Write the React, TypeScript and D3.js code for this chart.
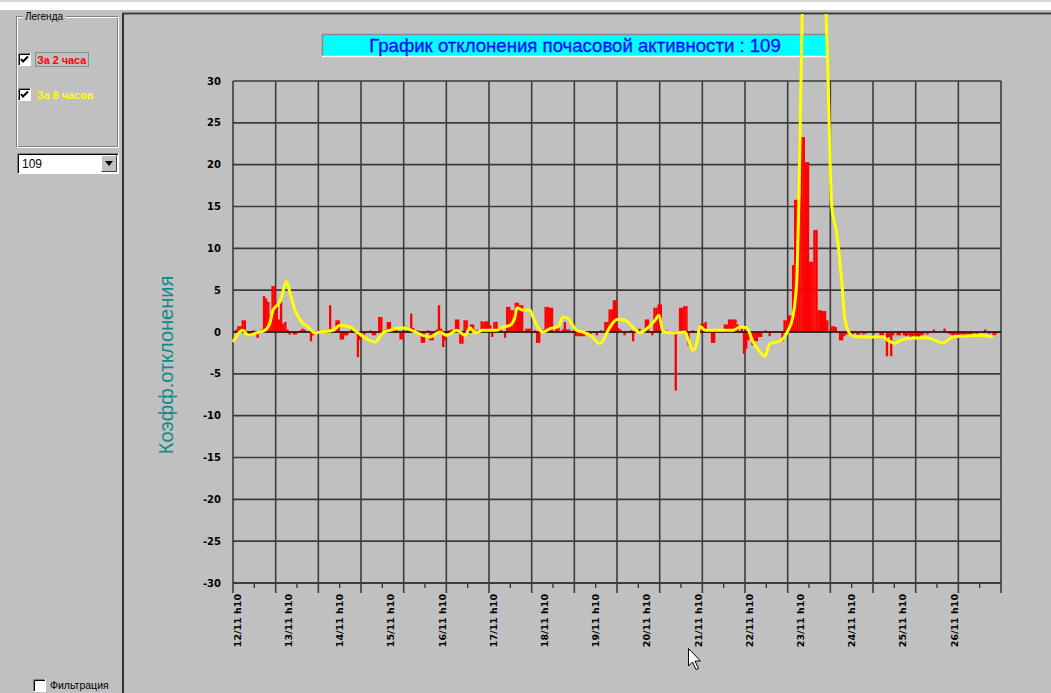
import React from 'react';
import * as d3 from 'd3';

// hourly deviation ("За 2 часа"), hour index 0 = start of chart
const barValues: number[] = [
  0, 0.3, 0.7, 0.7, 1.4, 1.4, 0, -0.5, -0.3, 0.2, 0, -0.7, -0.2, 0.3, 4.3, 4.0, 3.6, 2.0, 5.5, 5.5, 3.4, 1.5, 3.6, 1.0,
  1.2, 0.3, -0.3, 0, -0.3, -0.3, 0, 0.2, 0.4, 0.3, 0, 0, -1.1, -0.4, 0, 0, 0.2, 0, 0, 0.2, 0.3, 3.2, 0.3, 0,
  1.4, 1.4, -0.9, -0.9, -0.4, -0.4, 0, 0.3, 0, 0, -3.0, -1.0, 0, -0.3, 0, 0, 0.2, -0.4, -0.4, 0, 1.8, 1.8, 0, 0.3,
  1.2, 1.2, 0, 0.2, 0.3, 0, -0.9, -0.9, 0, 0.2, 0.4, 2.2, 0.5, 0, 0.2, 0, -1.3, -1.3, 0, 0.2, -1.0, -1.0, 0, 0.3,
  3.2, 0.4, -1.8, -1.0, 0, 0.2, 0.3, 0, 1.5, 1.5, -1.4, -1.4, 1.4, 1.4, 0, 0.9, 0.9, 0, 0.3, 0, 1.3, 1.2, 1.3, 1.3,
  0.8, -0.6, 1.2, 1.2, 0, 0.3, 0, -0.7, 3.0, 3.0, 2.6, 2.6, 3.5, 3.5, 3.2, 3.2, 0, 0.4, 0.4, 0.4, 0, 0.2, -1.3, -1.3,
  0, 0.3, 3.0, 3.0, 2.9, 2.9, 0, 0.6, 0.6, 0, 0.3, 1.2, 0.3, 0.3, 0, 0, -0.5, -0.5, -0.5, -0.5, -0.5, 0, 0, -0.5,
  0, 0, -0.4, 0, 0.2, 0, 1.2, 1.2, 2.7, 2.7, 3.8, 3.8, 0.5, 0.3, 0, -0.4, 0, 0, 0.2, -1.1, 0, 0, 0.4, 0,
  0.2, 1.5, 1.5, 0, -0.4, 2.9, 2.9, 3.3, 3.3, 0, 0, 0.2, 0, 0, 0, -7.0, 0, 2.9, 2.9, 3.1, 3.1, -1.6, 0, 0.2,
  0, 0, 0.3, 1.0, 1.0, 1.2, 0, 0, -1.3, -1.3, 0, 0.2, 0, 0, 0.9, 0.9, 1.5, 1.5, 1.5, 1.5, 0.9, 0, 0.4, -2.6,
  -2.0, -1.0, 0, -1.6, -1.1, -1.1, -0.6, -0.6, 0, 0.2, 0, -0.5, 0, 0.1, 0.1, 0, 0, -1.1, 1.4, 1.4, 2.0, 2.0, 8.0, 15.8,
  15.8, 16.0, 23.3, 23.3, 20.3, 20.3, 8.4, 8.4, 12.2, 12.2, 2.6, 2.6, 2.5, 2.5, 1.4, 0, 0.7, 0.7, 0.6, 0, -1.0, -1.0, -0.5, -0.3,
  0, -0.3, -0.4, 0, -0.3, -0.3, 0, -0.3, -0.2, 0, 0, 0, -0.2, 0, 0, -0.4, -0.4, 0, -2.9, -0.6, -2.9, -0.4, 0, -0.4,
  -0.4, 0, -0.4, -0.5, -0.4, -0.6, -0.5, -0.4, -0.5, -0.6, -0.4, -0.3, 0, -0.3, 0, 0, 0.3, 0, 0, 0, 0, 0.4, 0, -0.2,
  -0.3, -0.4, -0.3, -0.4, -0.3, -0.3, -0.4, -0.3, -0.4, -0.3, -0.3, 0, -0.3, 0, 0, 0, 0.3, 0, -0.2, 0, -0.4, -0.3,
];

// "За 8 часов" smoothed series, read as (hour, value) points
const lineHours: number[] = [
  0, 4.7, 7, 11.1, 15, 17.3, 18.75, 22, 25.2, 26.7, 29.1, 32.2, 35.2, 38.4, 40.8, 46.9, 50.2, 54.8, 58.6, 61.9,
  66.6, 70.3, 73.6, 79.1, 83.8, 89, 92.3, 97, 100.2, 104.9, 108.8, 111.1, 113.4, 117.2, 123.6, 126.6, 129.8, 132.2,
  133.1, 135.9, 139.2, 140.6, 143, 145.3, 148.6, 152.3, 154.7, 157, 161.1, 164, 168.1, 172, 176.5, 180, 183.8,
  186.9, 190.8, 194, 197.8, 199.7, 201.6, 206.3, 211.9, 213.8, 215.5, 217.4, 218.9, 221.3, 226, 234.4, 237.7,
  240.8, 243.8, 247.1, 249.4, 251.7, 254.9, 257.8, 260.2, 262.4, 264.2, 265.8, 266.8, 268.5, 272, 276, 278,
  278.9, 280.7, 283, 285.4, 286.9, 290, 293.9, 295.3, 304.7, 307, 310.3, 312.7, 317.3, 325.2, 332.8, 337.5,
  342.2, 350.2, 356.3,
];
const lineValues: number[] = [
  -1.2, 0.2, -0.4, -0.1, 0.2, 1.1, 2.6, 3.6, 6.0, 4.7, 2.6, 1.2, 0.6, -0.1, 0.0, 0.2, 0.8, 0.6, -0.1, -0.7,
  -1.2, -0.1, 0.2, 0.5, 0.2, -0.4, -0.6, 0.0, -0.4, 0.2, -0.4, 0.5, -0.1, 0.2, 0.2, 0.6, 0.8, 1.8,
  2.9, 2.6, 2.6, 1.8, 0.5, 0.0, 0.4, 0.6, 1.8, 1.6, 0.2, 0.0, -0.5, -1.4, 0.5, 1.5, 1.4,
  0.7, -0.1, 0.4, 1.4, 2.0, 0.0, -0.1, 0.0, -1.2, -2.2, -1.3, 0.7, 0.2, 0.2, 0.2, 0.6,
  0.5, -1.2, -2.4, -2.9, -1.4, -1.2, -0.8, 0.2, 1.8, 5.9, 22.9, 38, 44, 46, 44, 38,
  30.5, 14.9, 11.8, 5.9, 1.4, -0.4, -0.6, -0.6, -0.6, -1.0, -1.35, -1.0, -0.75, -0.7, -1.3, -0.6,
  -0.5, -0.4, -0.6,
];

const yTicks: number[] = [30, 25, 20, 15, 10, 5, 0, -5, -10, -15, -20, -25, -30];
const dayLabels: string[] = [
  '12/11 h10', '13/11 h10', '14/11 h10', '15/11 h10', '16/11 h10', '17/11 h10', '18/11 h10', '19/11 h10',
  '20/11 h10', '21/11 h10', '22/11 h10', '23/11 h10', '24/11 h10', '25/11 h10', '26/11 h10',
];
const firstLabelHour = 2;
const hoursPerDay = 24;
const gridStepHours = 20;
const totalHours = 360;

const titleText = 'График отклонения почасовой активности : 109';
const yAxisTitle = 'Коэфф.отклонения';

const BG = '#c0c0c0';

function Checkbox({ x, y, size = 13, checked }: { x: number; y: number; size?: number; checked: boolean }) {
  return (
    <g>
      <rect x={x} y={y} width={size} height={size} fill="#ffffff" />
      <path d={`M${x + 0.5},${y + size} V${y + 0.5} H${x + size}`} stroke="#808080" fill="none" />
      <path d={`M${x + 1.5},${y + size - 1} V${y + 1.5} H${x + size - 1}`} stroke="#000" fill="none" />
      <path d={`M${x + 0.5},${y + size - 0.5} H${x + size - 0.5} V${y}`} stroke="#fff" fill="none" />
      {checked && (
        <path
          d={`M${x + 3},${y + 6} L${x + 5},${y + 8.5} L${x + 10},${y + 3.5}`}
          stroke="#000"
          strokeWidth={2}
          fill="none"
        />
      )}
    </g>
  );
}

export default function App() {
  const W = 1051;
  const H = 693;
  const plot = { left: 233, right: 1001, top: 81, bottom: 583 };
  const x = d3.scaleLinear().domain([0, totalHours]).range([plot.left, plot.right]);
  const y = d3.scaleLinear().domain([-30, 30]).range([plot.bottom, plot.top]);
  const step = x(1) - x(0);

  const gridHours = d3.range(0, totalHours + 1, gridStepHours);
  const minorHours = d3.range(gridStepHours / 2, totalHours, gridStepHours);

  const linePts: [number, number][] = lineHours.map((h, i) => [h, lineValues[i]]);
  const lineGen = d3
    .line<[number, number]>()
    .x((d) => x(d[0]))
    .y((d) => y(d[1]))
    .curve(d3.curveMonotoneX);

  const tickFont = '"DejaVu Sans", Verdana, sans-serif';
  const uiFont = '"Liberation Sans", Arial, sans-serif';

  return (
    <svg
      width={W}
      height={H}
      style={{ position: 'absolute', left: 0, top: 0, display: 'block' }}
      xmlns="http://www.w3.org/2000/svg"
    >
      <defs>
        <clipPath id="chartClip">
          <rect x={124} y={14} width={W - 124} height={H - 14} />
        </clipPath>
      </defs>
      <rect x={0} y={0} width={W} height={H} fill={BG} />
      {/* top strip */}
      <rect x={0} y={0} width={W} height={2} fill="#d8d8d8" />
      <rect x={0} y={2} width={W} height={8} fill="#ffffff" />

      {/* left panel separator and chart frame */}
      <line x1={123} y1={13} x2={123} y2={H} stroke="#303030" strokeWidth={2} />
      <line x1={122} y1={13.5} x2={W} y2={13.5} stroke="#404040" strokeWidth={2} />

      {/* legend group box */}
      <rect x={16.5} y={16.5} width={101} height={130} fill="none" stroke="#808080" />
      <rect x={17.5} y={17.5} width={101} height={130} fill="none" stroke="#ffffff" />
      <rect x={23} y={10} width={43} height={12} fill={BG} />
      <text x={25} y={20} fontFamily={uiFont} fontSize={10} fill="#000">
        Легенда
      </text>
      <Checkbox x={18} y={53} checked />
      <rect x={35.5} y={52.5} width={53} height={14} fill="none" stroke="#2f6f6f" strokeDasharray="1,1" />
      <text x={37} y={63.5} fontFamily={uiFont} fontSize={10.8} fontWeight="bold" fill="#ff0000">
        За 2 часа
      </text>
      <Checkbox x={18} y={88} checked />
      <text x={37} y={98.5} fontFamily={uiFont} fontSize={10.8} fontWeight="bold" fill="#ffff00">
        За 8 часов
      </text>

      {/* dropdown */}
      <rect x={17} y={153} width={102} height={21} fill="#ffffff" />
      <path d="M17.5,174 V153.5 H119" stroke="#808080" fill="none" />
      <path d="M18.5,173 V154.5 H118" stroke="#000" fill="none" />
      <path d="M17.5,173.5 H118.5 V153" stroke="#fff" fill="none" />
      <text x={22} y={168} fontFamily={uiFont} fontSize={12} fill="#000">
        109
      </text>
      <rect x={101} y={155} width={16} height={17} fill={BG} />
      <path d="M101.5,171.5 V155.5 H116.5" stroke="#fff" fill="none" />
      <path d="M101.5,171.5 H116.5 V155.5" stroke="#404040" fill="none" />
      <path d="M105,161 H113 L109,166 Z" fill="#000" />

      {/* filtration checkbox */}
      <Checkbox x={33} y={679} checked={false} />
      <text x={50} y={689} fontFamily={uiFont} fontSize={10.5} fill="#000">
        Фильтрация
      </text>

      {/* title box */}
      <rect x={322} y={34} width={506} height={23} fill="#00ffff" />
      <path d="M322.5,57 V34.5 H828" stroke="#8a8a8a" strokeWidth={1.5} fill="none" />
      <path d="M322,56.5 H828" stroke="#ffffff" strokeWidth={1.5} fill="none" />
      <text
        x={575}
        y={52}
        textAnchor="middle"
        fontFamily={uiFont}
        fontSize={18.6}
        fill="#0a0aff"
        stroke="#0a0aff"
        strokeWidth={0.3}
      >
        {titleText}
      </text>

      {/* y-axis title */}
      <text
        transform={`translate(173,365) rotate(-90)`}
        textAnchor="middle"
        fontFamily={uiFont}
        fontSize={20}
        fill="#128a8a"
      >
        {yAxisTitle}
      </text>

      {/* grid */}
      {yTicks.map((t) => (
        <line
          key={'h' + t}
          x1={plot.left}
          x2={plot.right}
          y1={y(t)}
          y2={y(t)}
          stroke={t === 0 ? '#000' : '#3c3c3c'}
          strokeWidth={t === 0 ? 1 : 1.6}
        />
      ))}
      {gridHours.map((h) => (
        <line
          key={'v' + h}
          x1={x(h)}
          x2={x(h)}
          y1={plot.top}
          y2={plot.bottom + 10}
          stroke="#3c3c3c"
          strokeWidth={1.6}
        />
      ))}
      {minorHours.map((h) => (
        <line key={'m' + h} x1={x(h)} x2={x(h)} y1={plot.bottom} y2={plot.bottom + 5} stroke="#3c3c3c" strokeWidth={1.4} />
      ))}
      <line x1={plot.left} x2={plot.right} y1={plot.bottom} y2={plot.bottom} stroke="#3c3c3c" strokeWidth={2} />

      {/* y tick labels */}
      {yTicks.map((t) => (
        <text
          key={'yl' + t}
          x={221}
          y={y(t)}
          dy="0.36em"
          textAnchor="end"
          fontFamily={tickFont}
          fontWeight="bold"
          fontSize={10}
          fill="#000"
        >
          {t}
        </text>
      ))}

      {/* x tick labels */}
      {dayLabels.map((lab, k) => {
        const cx = x(firstLabelHour + k * hoursPerDay);
        return (
          <text
            key={lab}
            transform={`translate(${cx + 3.5},${594}) rotate(-90)`}
            textAnchor="end"
            fontFamily={tickFont}
            fontWeight="bold"
            fontSize={9.5}
            fill="#000"
          >
            {lab}
          </text>
        );
      })}

      {/* bars */}
      {barValues.map((v, i) =>
        v === 0 ? null : (
          <rect
            key={'b' + i}
            x={x(i)}
            y={Math.min(y(v), y(0))}
            width={step + 0.2}
            height={Math.abs(y(v) - y(0))}
            fill="#ff0000"
          />
        )
      )}
      <line x1={plot.left} x2={plot.right} y1={y(0)} y2={y(0)} stroke="#000" strokeWidth={1} />

      {/* 8-hour line */}
      <g clipPath="url(#chartClip)">
        <path d={lineGen(linePts) || ''} fill="none" stroke="#ffff00" strokeWidth={3} strokeLinejoin="round" />
      </g>

      {/* mouse cursor */}
      <path
        d="M688.5,648.5 V666 L692.5,662 L696,669.5 L698.5,668.5 L695,661 L700.5,661 Z"
        fill="#ffffff"
        stroke="#000"
        strokeWidth={1}
      />
    </svg>
  );
}
